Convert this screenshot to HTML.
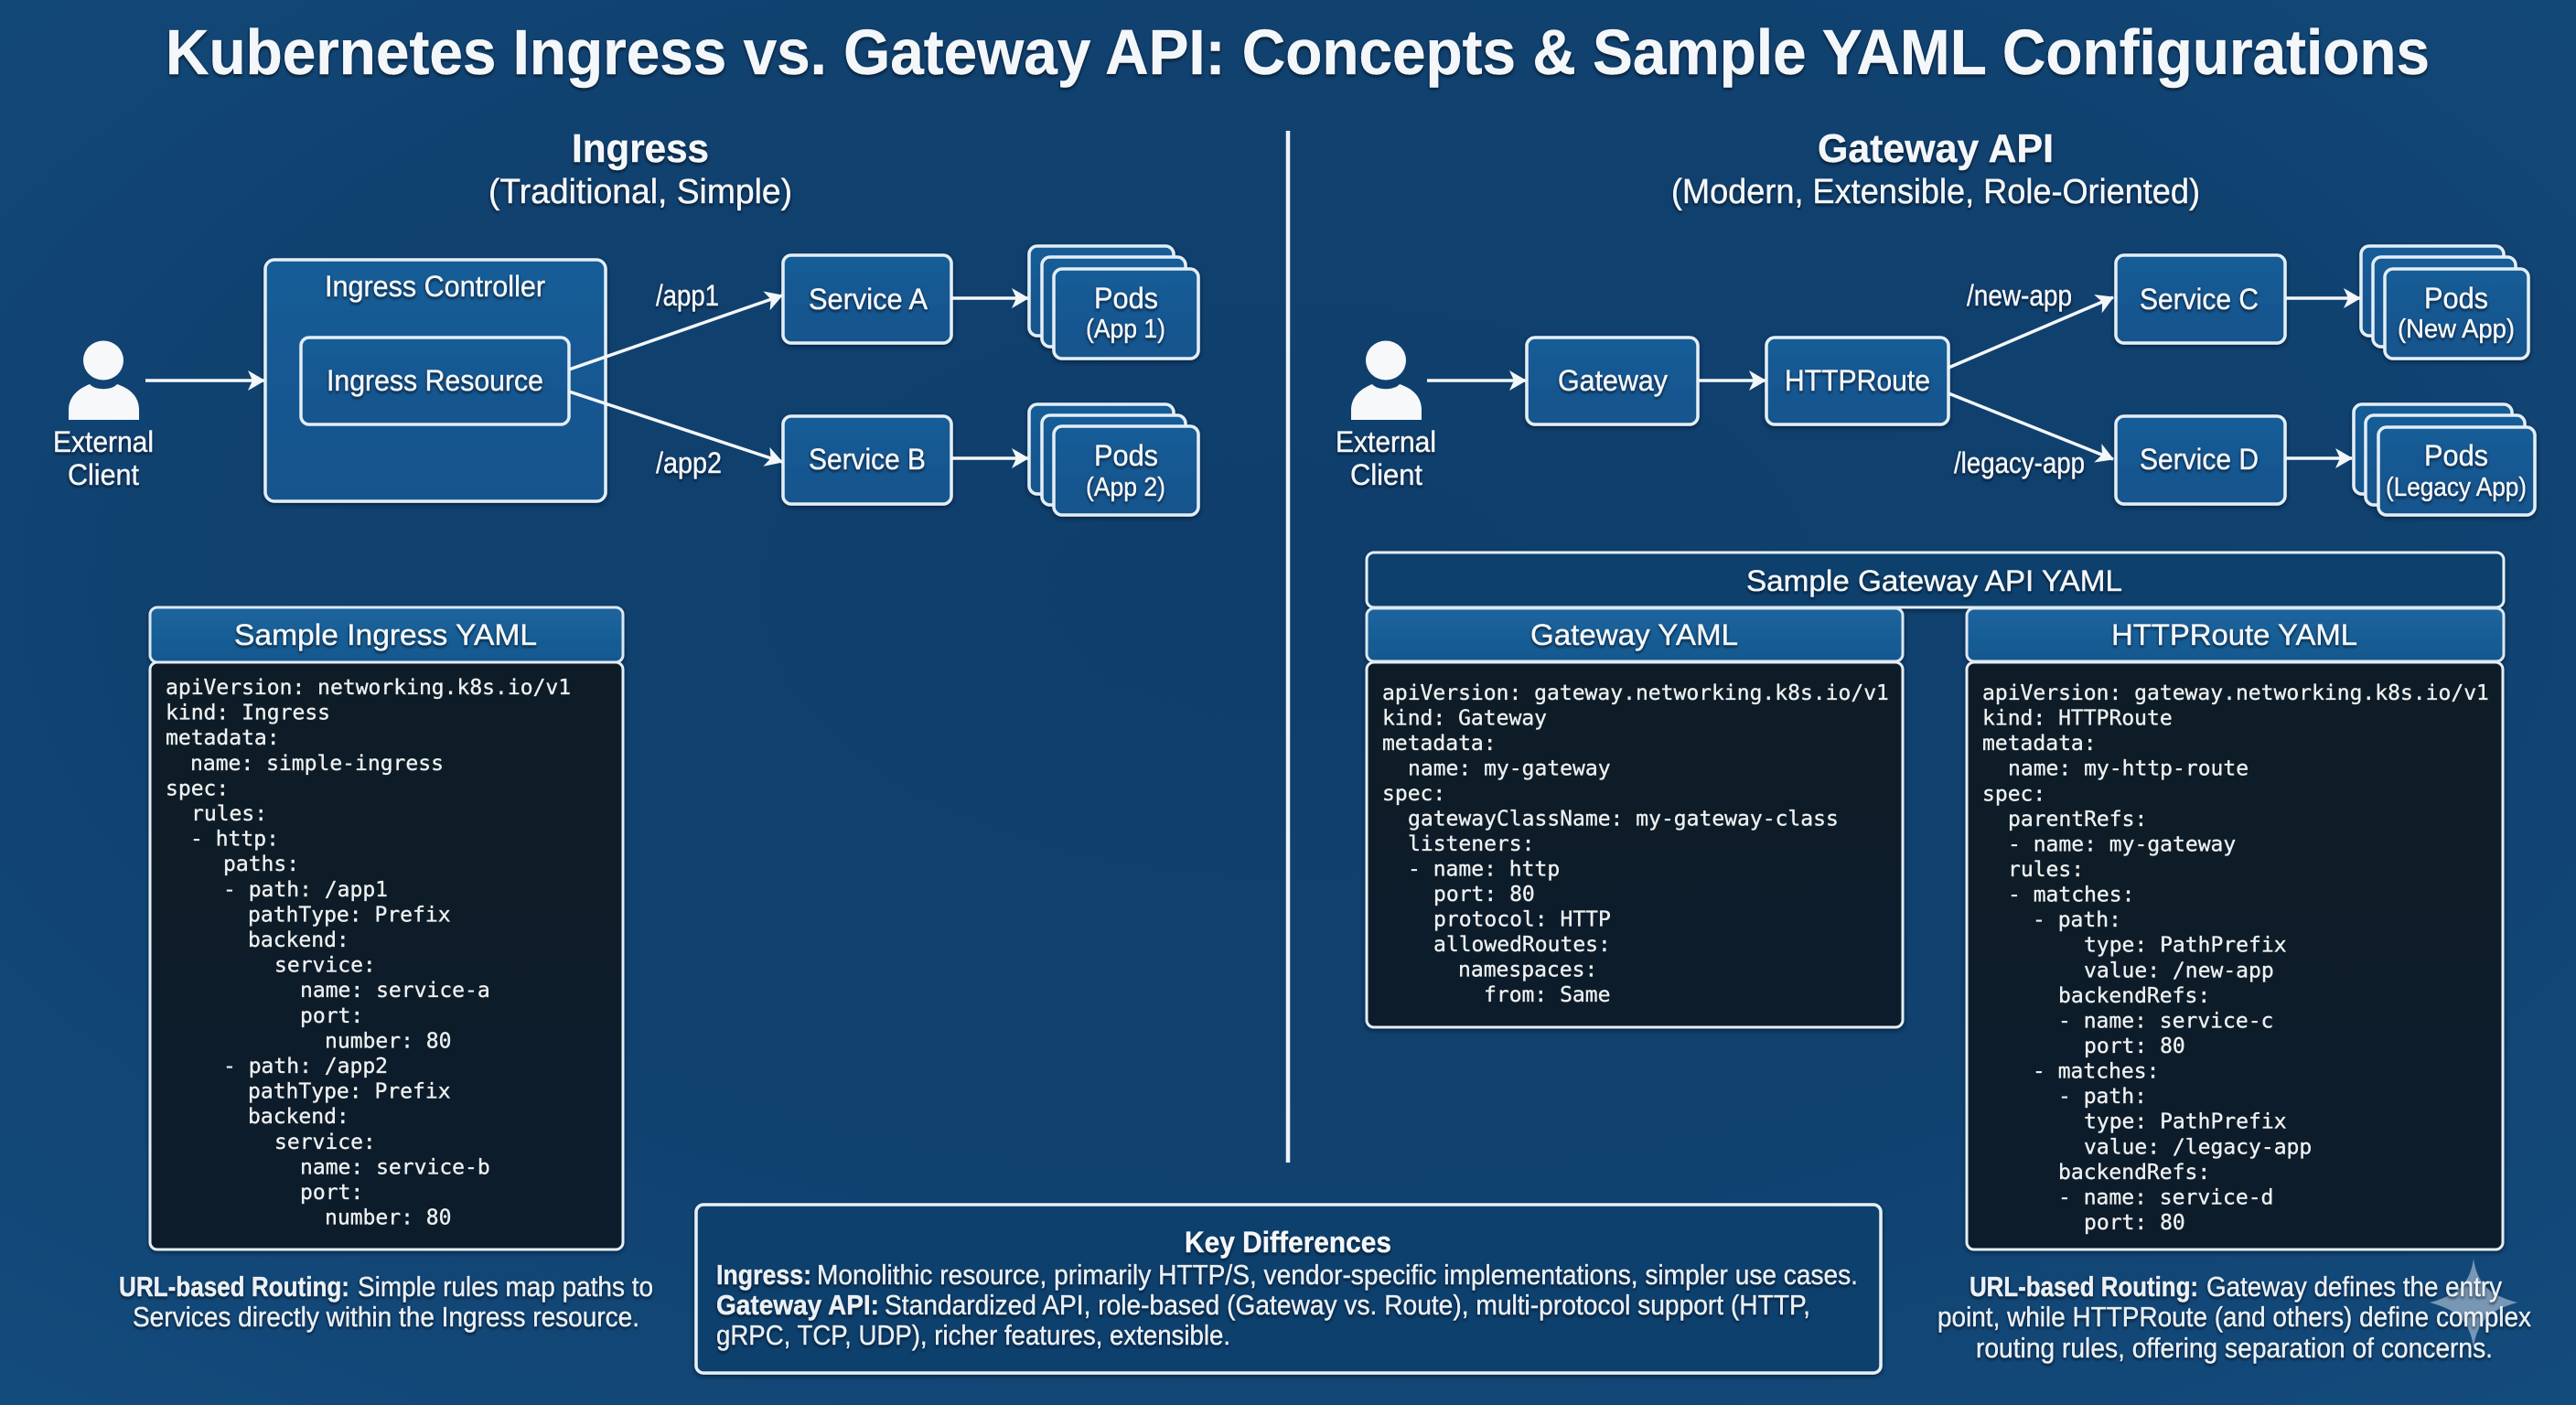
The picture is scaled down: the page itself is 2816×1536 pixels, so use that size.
<!DOCTYPE html>
<html><head><meta charset="utf-8"><title>Kubernetes Ingress vs. Gateway API</title>
<style>
html,body{margin:0;padding:0;width:2816px;height:1536px;overflow:hidden;background:#10406f}
svg{display:block}
text{font-family:"Liberation Sans",sans-serif;fill:#f4f7fa;stroke:#f4f7fa;stroke-width:.35px}
.b{font-weight:bold}
.y{font-family:"DejaVu Sans Mono","Liberation Mono",monospace;font-size:23px;fill:#eef0f1;stroke:#eef0f1;stroke-width:.35px}
.l{font-size:32px}.s{font-size:29px}
.c{font-size:31px;fill:#eaf0f5;stroke:#eaf0f5}
.box{fill:url(#bx);stroke:#e4eef6;stroke-width:3.5}
.hd{fill:url(#hd);stroke:#dbe8f3;stroke-width:3}
.dk{fill:url(#dk);stroke:#e4eef6;stroke-width:3}
.a{stroke:#f4f7fa;stroke-width:3.5;fill:none;marker-end:url(#ah)}
</style></head><body>
<svg xmlns="http://www.w3.org/2000/svg" width="2816" height="1536" viewBox="0 0 2816 1536">
<defs>
<radialGradient id="bg" cx="50%" cy="42%" r="75%"><stop offset="0" stop-color="#0f3e6c"/><stop offset=".55" stop-color="#10416f"/><stop offset="1" stop-color="#134b7c"/></radialGradient>
<linearGradient id="bx" x1="0" y1="0" x2="0" y2="1"><stop offset="0" stop-color="#195c97"/><stop offset="1" stop-color="#15548c"/></linearGradient>
<linearGradient id="hd" x1="0" y1="0" x2="0" y2="1"><stop offset="0" stop-color="#1c649e"/><stop offset="1" stop-color="#15588f"/></linearGradient>
<linearGradient id="dk" x1="0" y1="0" x2="0" y2="1"><stop offset="0" stop-color="#0f1b27"/><stop offset="1" stop-color="#101d2a"/></linearGradient>
<marker id="ah" markerUnits="userSpaceOnUse" markerWidth="20" markerHeight="24" refX="19" refY="12" orient="auto"><path d="M1,1 L20,12 L1,23 L6,12 Z" fill="#f4f7fa"/></marker>
<filter id="sh" x="-5%" y="-10%" width="110%" height="120%"><feDropShadow dx="0" dy="2" stdDeviation="2.5" flood-color="#061a30" flood-opacity=".75"/></filter>
<filter id="ts" x="-5%" y="-20%" width="110%" height="140%"><feDropShadow dx="0" dy="2" stdDeviation="1.5" flood-color="#04101f" flood-opacity=".8"/></filter>
</defs>
<rect width="2816" height="1536" fill="url(#bg)"/>

<line x1="1408" y1="143" x2="1408" y2="1271" stroke="#eef3f8" stroke-width="4.5"/>

<g filter="url(#sh)">
<!-- Ingress diagram -->
<rect class="box" x="290" y="284" width="372" height="264" rx="10"/>
<rect class="box" x="329" y="369" width="293" height="95" rx="9"/>
<rect class="box" x="856" y="279" width="184" height="96" rx="9"/>
<rect class="box" x="856" y="455" width="184" height="96" rx="9"/>
<rect class="box" x="1125" y="269" width="158" height="98" rx="9"/>
<rect class="box" x="1139" y="281" width="157" height="98" rx="9"/>
<rect class="box" x="1152" y="294" width="158" height="98" rx="9"/>
<rect class="box" x="1125" y="442" width="158" height="98" rx="9"/>
<rect class="box" x="1139" y="454" width="157" height="98" rx="9"/>
<rect class="box" x="1152" y="466" width="158" height="97" rx="9"/>
<!-- Gateway diagram -->
<rect class="box" x="1669" y="369" width="187" height="95" rx="9"/>
<rect class="box" x="1931" y="369" width="199" height="95" rx="9"/>
<rect class="box" x="2313" y="279" width="185" height="96" rx="9"/>
<rect class="box" x="2313" y="455" width="185" height="96" rx="9"/>
<rect class="box" x="2581" y="269" width="156" height="98" rx="9"/>
<rect class="box" x="2594" y="281" width="156" height="98" rx="9"/>
<rect class="box" x="2607" y="294" width="157" height="98" rx="9"/>
<rect class="box" x="2573" y="442" width="173" height="98" rx="9"/>
<rect class="box" x="2586" y="454" width="174" height="98" rx="9"/>
<rect class="box" x="2600" y="467" width="171" height="96" rx="9"/>
<!-- YAML panels -->
<rect class="hd" x="164" y="664" width="517" height="60" rx="8"/>
<rect class="dk" x="164" y="724" width="517" height="642" rx="8"/>
<rect x="1494" y="604" width="1243" height="60" rx="8" fill="#113f6d" stroke="#e4eef6" stroke-width="3"/>
<rect class="hd" x="1494" y="665" width="586" height="58" rx="8"/>
<rect class="dk" x="1494" y="724" width="586" height="399" rx="8"/>
<rect class="hd" x="2150" y="665" width="587" height="58" rx="8"/>
<rect class="dk" x="2150" y="724" width="586" height="642" rx="8"/>
<rect x="761" y="1317" width="1295" height="184" rx="8" fill="#113f6d" stroke="#e8f0f7" stroke-width="3.5"/>
</g>

<!-- Persons -->
<g fill="#f6f8fa">
<ellipse cx="113" cy="394" rx="22" ry="21.5"/>
<path d="M75,459 L75,448 C75,432 88,424 98,420 C104,427 122,427 128,420 C140,424 152,432 152,448 L152,459 Z"/>
</g>
<g transform="translate(1402,0)" fill="#f6f8fa">
<ellipse cx="113" cy="394" rx="22" ry="21.5"/>
<path d="M75,459 L75,448 C75,432 88,424 98,420 C104,427 122,427 128,420 C140,424 152,432 152,448 L152,459 Z"/>
</g>

<!-- Arrows -->
<path class="a" d="M159,416 H289"/>
<path class="a" d="M622,404 L855,323"/>
<path class="a" d="M622,428 L855,505"/>
<path class="a" d="M1040,326 H1124"/>
<path class="a" d="M1040,501 H1124"/>
<path class="a" d="M1560,416 H1668"/>
<path class="a" d="M1857,416 H1930"/>
<path class="a" d="M2130,402 L2310,325"/>
<path class="a" d="M2130,430 L2310,502"/>
<path class="a" d="M2498,326 H2580"/>
<path class="a" d="M2498,501 H2571"/>

<!-- Star mark behind caption text -->
<path d="M2704,1376 C2708,1404 2722,1416 2752,1424 C2722,1432 2708,1444 2704,1473 C2700,1444 2686,1432 2656,1424 C2686,1416 2700,1404 2704,1376 Z" fill="#8ba5c0" fill-opacity=".85"/>

<g filter="url(#ts)">
<text class="b" x="181" y="81" font-size="70" textLength="2475" lengthAdjust="spacingAndGlyphs">Kubernetes Ingress vs. Gateway API: Concepts &amp; Sample YAML Configurations</text>

<text class="b" x="625" y="177" font-size="44" textLength="150" lengthAdjust="spacingAndGlyphs">Ingress</text>
<text x="534" y="222" font-size="38" textLength="332" lengthAdjust="spacingAndGlyphs">(Traditional, Simple)</text>
<text class="b" x="1987" y="177" font-size="44" textLength="258" lengthAdjust="spacingAndGlyphs">Gateway API</text>
<text x="1827" y="222" font-size="38" textLength="578" lengthAdjust="spacingAndGlyphs">(Modern, Extensible, Role-Oriented)</text>

<text class="l" x="58" y="494" textLength="110" lengthAdjust="spacingAndGlyphs">External</text>
<text class="l" x="74" y="530" textLength="78" lengthAdjust="spacingAndGlyphs">Client</text>
<text class="l" x="355" y="324" textLength="241" lengthAdjust="spacingAndGlyphs">Ingress Controller</text>
<text class="l" x="357" y="427" textLength="237" lengthAdjust="spacingAndGlyphs">Ingress Resource</text>
<text class="l" x="717" y="334" textLength="69" lengthAdjust="spacingAndGlyphs">/app1</text>
<text class="l" x="717" y="517" textLength="72" lengthAdjust="spacingAndGlyphs">/app2</text>
<text class="l" x="884" y="338" textLength="130" lengthAdjust="spacingAndGlyphs">Service A</text>
<text class="l" x="884" y="513" textLength="128" lengthAdjust="spacingAndGlyphs">Service B</text>
<text class="l" x="1196" y="337" textLength="70" lengthAdjust="spacingAndGlyphs">Pods</text>
<text class="s" x="1187" y="369" textLength="87" lengthAdjust="spacingAndGlyphs">(App 1)</text>
<text class="l" x="1196" y="509" textLength="70" lengthAdjust="spacingAndGlyphs">Pods</text>
<text class="s" x="1187" y="542" textLength="87" lengthAdjust="spacingAndGlyphs">(App 2)</text>

<text class="l" x="1460" y="494" textLength="110" lengthAdjust="spacingAndGlyphs">External</text>
<text class="l" x="1476" y="530" textLength="79" lengthAdjust="spacingAndGlyphs">Client</text>
<text class="l" x="1703" y="427" textLength="120" lengthAdjust="spacingAndGlyphs">Gateway</text>
<text class="l" x="1951" y="427" textLength="159" lengthAdjust="spacingAndGlyphs">HTTPRoute</text>
<text class="l" x="2150" y="334" textLength="115" lengthAdjust="spacingAndGlyphs">/new-app</text>
<text class="l" x="2136" y="517" textLength="143" lengthAdjust="spacingAndGlyphs">/legacy-app</text>
<text class="l" x="2339" y="338" textLength="130" lengthAdjust="spacingAndGlyphs">Service C</text>
<text class="l" x="2339" y="513" textLength="130" lengthAdjust="spacingAndGlyphs">Service D</text>
<text class="l" x="2650" y="337" textLength="70" lengthAdjust="spacingAndGlyphs">Pods</text>
<text class="s" x="2621" y="369" textLength="128" lengthAdjust="spacingAndGlyphs">(New App)</text>
<text class="l" x="2650" y="509" textLength="70" lengthAdjust="spacingAndGlyphs">Pods</text>
<text class="s" x="2608" y="542" textLength="154" lengthAdjust="spacingAndGlyphs">(Legacy App)</text>

<text class="l" x="256" y="705" font-size="34" textLength="331" lengthAdjust="spacingAndGlyphs">Sample Ingress YAML</text>
<text class="l" x="1909" y="646" textLength="411" lengthAdjust="spacingAndGlyphs">Sample Gateway API YAML</text>
<text class="l" x="1673" y="705" textLength="227" lengthAdjust="spacingAndGlyphs">Gateway YAML</text>
<text class="l" x="2308" y="705" textLength="269" lengthAdjust="spacingAndGlyphs">HTTPRoute YAML</text>

<text class="c b" x="130" y="1417" textLength="252" lengthAdjust="spacingAndGlyphs">URL-based Routing:</text>
<text class="c" x="391" y="1417" textLength="323" lengthAdjust="spacingAndGlyphs">Simple rules map paths to</text>
<text class="c" x="145" y="1450" textLength="554" lengthAdjust="spacingAndGlyphs">Services directly within the Ingress resource.</text>

<text class="c b" x="2153" y="1417" textLength="250" lengthAdjust="spacingAndGlyphs">URL-based Routing:</text>
<text class="c" x="2412" y="1417" textLength="323" lengthAdjust="spacingAndGlyphs">Gateway defines the entry</text>
<text class="c" x="2118" y="1450" textLength="649" lengthAdjust="spacingAndGlyphs">point, while HTTPRoute (and others) define complex</text>
<text class="c" x="2160" y="1484" textLength="565" lengthAdjust="spacingAndGlyphs">routing rules, offering separation of concerns.</text>

<text class="b" x="1295" y="1369" font-size="32" textLength="226" lengthAdjust="spacingAndGlyphs">Key Differences</text>
<text class="c b" x="783" y="1404" textLength="104" lengthAdjust="spacingAndGlyphs">Ingress:</text>
<text class="c" x="893" y="1404" textLength="1138" lengthAdjust="spacingAndGlyphs">Monolithic resource, primarily HTTP/S, vendor-specific implementations, simpler use cases.</text>
<text class="c b" x="783" y="1437" textLength="178" lengthAdjust="spacingAndGlyphs">Gateway API:</text>
<text class="c" x="967" y="1437" textLength="1012" lengthAdjust="spacingAndGlyphs">Standardized API, role-based (Gateway vs. Route), multi-protocol support (HTTP,</text>
<text class="c" x="783" y="1470" textLength="562" lengthAdjust="spacingAndGlyphs">gRPC, TCP, UDP), richer features, extensible.</text>
</g>

<text class="y"><tspan x="181" y="759">apiVersion: networking.k8s.io/v1</tspan><tspan x="181" dy="27.6">kind: Ingress</tspan><tspan x="181" dy="27.6">metadata:</tspan><tspan x="208" dy="27.6">name: simple-ingress</tspan><tspan x="181" dy="27.6">spec:</tspan><tspan x="209" dy="27.6">rules:</tspan><tspan x="208" dy="27.6">- http:</tspan><tspan x="244" dy="27.6">paths:</tspan><tspan x="244" dy="27.6">- path: /app1</tspan><tspan x="271" dy="27.6">pathType: Prefix</tspan><tspan x="271" dy="27.6">backend:</tspan><tspan x="300" dy="27.6">service:</tspan><tspan x="328" dy="27.6">name: service-a</tspan><tspan x="328" dy="27.6">port:</tspan><tspan x="355" dy="27.6">number: 80</tspan><tspan x="244" dy="27.6">- path: /app2</tspan><tspan x="271" dy="27.6">pathType: Prefix</tspan><tspan x="271" dy="27.6">backend:</tspan><tspan x="300" dy="27.6">service:</tspan><tspan x="328" dy="27.6">name: service-b</tspan><tspan x="328" dy="27.6">port:</tspan><tspan x="355" dy="27.6">number: 80</tspan></text>

<text class="y"><tspan x="1511" y="765">apiVersion: gateway.networking.k8s.io/v1</tspan><tspan x="1511" dy="27.5">kind: Gateway</tspan><tspan x="1511" dy="27.5">metadata:</tspan><tspan x="1539" dy="27.5">name: my-gateway</tspan><tspan x="1511" dy="27.5">spec:</tspan><tspan x="1539" dy="27.5">gatewayClassName: my-gateway-class</tspan><tspan x="1539" dy="27.5">listeners:</tspan><tspan x="1539" dy="27.5">- name: http</tspan><tspan x="1567" dy="27.5">port: 80</tspan><tspan x="1567" dy="27.5">protocol: HTTP</tspan><tspan x="1567" dy="27.5">allowedRoutes:</tspan><tspan x="1594" dy="27.5">namespaces:</tspan><tspan x="1622" dy="27.5">from: Same</tspan></text>

<text class="y"><tspan x="2167" y="765">apiVersion: gateway.networking.k8s.io/v1</tspan><tspan x="2167" dy="27.57">kind: HTTPRoute</tspan><tspan x="2167" dy="27.57">metadata:</tspan><tspan x="2195" dy="27.57">name: my-http-route</tspan><tspan x="2167" dy="27.57">spec:</tspan><tspan x="2195" dy="27.57">parentRefs:</tspan><tspan x="2195" dy="27.57">- name: my-gateway</tspan><tspan x="2195" dy="27.57">rules:</tspan><tspan x="2195" dy="27.57">- matches:</tspan><tspan x="2222" dy="27.57">- path:</tspan><tspan x="2278" dy="27.57">type: PathPrefix</tspan><tspan x="2278" dy="27.57">value: /new-app</tspan><tspan x="2250" dy="27.57">backendRefs:</tspan><tspan x="2250" dy="27.57">- name: service-c</tspan><tspan x="2278" dy="27.57">port: 80</tspan><tspan x="2222" dy="27.57">- matches:</tspan><tspan x="2250" dy="27.57">- path:</tspan><tspan x="2278" dy="27.57">type: PathPrefix</tspan><tspan x="2278" dy="27.57">value: /legacy-app</tspan><tspan x="2250" dy="27.57">backendRefs:</tspan><tspan x="2250" dy="27.57">- name: service-d</tspan><tspan x="2278" dy="27.57">port: 80</tspan></text>
</svg>
</body></html>
